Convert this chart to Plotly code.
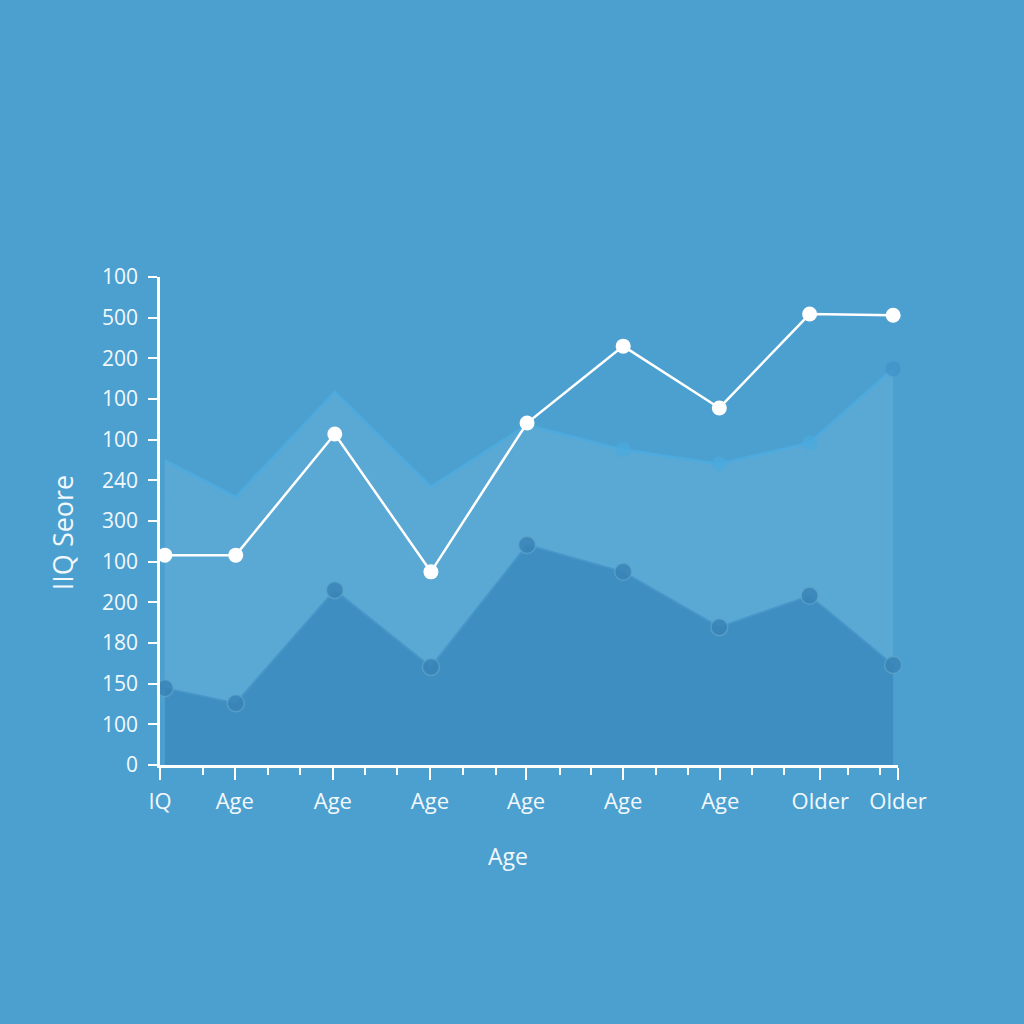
import plotly.graph_objects as go

# ---- data ----
x_pos = [0.5, 7.8, 18.0, 27.9, 37.8, 47.7, 57.6, 66.9, 75.5]
iq_line = [5.16, 5.16, 8.14, 4.75, 8.41, 10.30, 8.78, 11.09, 11.06]
mid_area = [7.50, 6.59, 9.17, 6.84, 8.36, 7.75, 7.40, 7.92, 9.74]
low_area = [1.89, 1.52, 4.30, 2.41, 5.41, 4.75, 3.39, 4.16, 2.46]

x_tickvals = [0, 7.7, 17.8, 27.8, 37.7, 47.7, 57.7, 68.0, 76.0]
x_ticktext = ["IQ", "Age", "Age", "Age", "Age", "Age", "Age", "Older", "Older"]
x_minor = [4.4, 11.1, 14.4, 21.1, 24.4, 31.2, 34.6, 41.2, 44.4, 51.1, 54.4,
           61.0, 64.3, 70.9, 74.1]

y_tickvals = list(range(13))
y_ticktext = ["0", "100", "150", "180", "200", "100", "300", "240", "100",
              "100", "200", "500", "100"]

mid_marker_sizes = [0, 0, 0, 0, 0, 15, 15, 15, 15]
mid_marker_colors = ["#4aa9de"] * 8 + ["#3f92c8"]

BG = "#4ca0d0"
FONT = "Open Sans"
TXT = "#f2f8fc"

fig = go.Figure()

# mid (lighter) area
fig.add_trace(go.Scatter(
    x=x_pos, y=mid_area, mode="lines+markers", fill="tozeroy",
    fillcolor="#5aa8d4",
    line=dict(color="rgba(78,172,224,0.75)", width=3),
    marker=dict(size=mid_marker_sizes, color=mid_marker_colors,
                line=dict(width=0)),
    cliponaxis=False, hoverinfo="skip", showlegend=False,
))

# dark area
fig.add_trace(go.Scatter(
    x=x_pos, y=low_area, mode="lines+markers", fill="tozeroy",
    fillcolor="#3e8ec1",
    line=dict(color="rgba(70,150,200,0.9)", width=2),
    marker=dict(size=17, color="rgba(56,132,182,0.85)",
                line=dict(color="rgba(95,165,205,0.7)", width=1.5)),
    cliponaxis=False, hoverinfo="skip", showlegend=False,
))

# white line
fig.add_trace(go.Scatter(
    x=x_pos, y=iq_line, mode="lines+markers",
    line=dict(color="white", width=2.5),
    marker=dict(size=15, color="white"),
    cliponaxis=False, hoverinfo="skip", showlegend=False,
))

fig.update_layout(
    width=1024, height=1024,
    margin=dict(l=160, r=126, t=277, b=259),
    paper_bgcolor=BG, plot_bgcolor=BG,
    font=dict(family=FONT, color=TXT, size=21),
    xaxis=dict(
        range=[0, 76], showgrid=False, zeroline=False,
        showline=True, linecolor="white", linewidth=2.5,
        tickmode="array", tickvals=x_tickvals, ticktext=x_ticktext,
        ticks="outside", ticklen=12, tickwidth=2, tickcolor="white",
        tickfont=dict(size=22, family=FONT),
        ticklabelstandoff=3,
        minor=dict(tickmode="array", tickvals=x_minor, ticks="outside",
                   ticklen=7, tickwidth=2, tickcolor="white", showgrid=False),
    ),
    yaxis=dict(
        range=[0, 12], showgrid=False, zeroline=False,
        showline=True, linecolor="white", linewidth=2.5,
        tickmode="array", tickvals=y_tickvals, ticktext=y_ticktext,
        ticks="outside", ticklen=9, tickwidth=2, tickcolor="white",
        tickfont=dict(size=21, family=FONT),
        ticklabelstandoff=6,
    ),
    annotations=[
        dict(text="IIQ Seore", xref="paper", yref="paper",
             x=-0.1328, y=0.477, textangle=-90, showarrow=False,
             font=dict(size=27, family=FONT, color=TXT),
             xanchor="center", yanchor="middle"),
        dict(text="Age", xref="paper", yref="paper",
             x=0.4715, y=-0.186, showarrow=False,
             font=dict(size=23, family=FONT, color=TXT),
             xanchor="center", yanchor="middle"),
    ],
)

fig.write_html(
    "out.html",
    config={"displayModeBar": False},
    post_script="document.body.style.margin='0';"
                "document.body.style.background='" + BG + "';",
)
